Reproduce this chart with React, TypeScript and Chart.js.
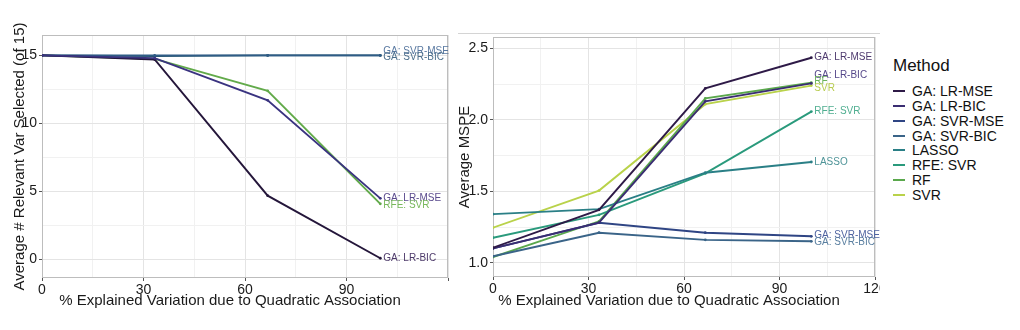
import React, { useEffect, useRef } from "react";
import { Chart, registerables } from "chart.js";

Chart.register(...registerables);

const FONT = "'Liberation Sans', Arial, sans-serif";

// ---------- data ----------
const xValues = [0, 33.3, 66.7, 100];
const methods = ["GA: LR-MSE", "GA: LR-BIC", "GA: SVR-MSE", "GA: SVR-BIC", "LASSO", "RFE: SVR", "RF", "SVR"];
const xTickLabelsLeft = [0, 30, 60, 90];
const xTickLabelsRight = [0, 30, 60, 90, 120];
const yTickLabelsLeft = [0, 5, 10, 15];
const yTickLabelsRight = [1.0, 1.5, 2.0, 2.5];
const xTitle = "% Explained Variation due to Quadratic Association";

// left panel: average # relevant var selected
const leftLrMse = [15, 14.8, 11.7, 4.5];
const leftLrBic = [15, 14.7, 4.7, 0.1];
const leftSvrMse = [15, 15, 15, 15];
const leftSvrBic = [15, 14.95, 15, 15];
const leftRfeSvr = [15, 14.75, 12.4, 4.1];

// right panel: average MSPE
const rightLrMse = [1.105, 1.37, 2.22, 2.435];
const rightLrBic = [1.1, 1.28, 2.13, 2.255];
const rightSvrMse = [1.1, 1.28, 1.21, 1.185];
const rightSvrBic = [1.045, 1.21, 1.16, 1.15];
const rightLasso = [1.34, 1.375, 1.63, 1.705];
const rightRfeSvr = [1.175, 1.335, 1.625, 2.058];
const rightRf = [1.04, 1.29, 2.15, 2.26];
const rightSvr = [1.245, 1.505, 2.11, 2.24];

// ---------- styles ----------
const methodColors = ["#2e1a47", "#3a2d72", "#2f4584", "#3a6488", "#2a7f86", "#2a9a7c", "#5aa84c", "#b9d24a"];

const toPts = (ys: number[]) => ys.map((y, i) => ({ x: xValues[i], y }));

const mkDs = (label: string, ys: number[], color: string, labelColor: string, labelDy = 0) => ({
  label,
  data: toPts(ys),
  borderColor: color,
  backgroundColor: color,
  pointBackgroundColor: color,
  pointBorderColor: color,
  borderWidth: 1.9,
  pointRadius: 1.4,
  pointHoverRadius: 1.4,
  pointBorderWidth: 0,
  tension: 0,
  labelColor,
  labelDy,
});

const panelPlugin = {
  id: "panelDeco",
  beforeDatasetsDraw(chart: any) {
    const { ctx, chartArea: a } = chart;
    ctx.save();
    ctx.strokeStyle = "#bdbdbd";
    ctx.lineWidth = 1;
    ctx.strokeRect(a.left + 0.5, a.top + 0.5, a.width - 1, a.height - 1);
    ctx.restore();
  },
  afterDatasetsDraw(chart: any) {
    const { ctx, chartArea: a } = chart;
    ctx.save();
    ctx.font = `10px ${FONT}`;
    ctx.textBaseline = "middle";
    ctx.textAlign = "left";
    chart.data.datasets.forEach((ds: any, i: number) => {
      const meta = chart.getDatasetMeta(i);
      const last = meta.data[meta.data.length - 1];
      if (!last) return;
      ctx.fillStyle = ds.labelColor;
      ctx.fillText(ds.label, last.x + 3, last.y + (ds.labelDy || 0));
    });
    // x axis title (slightly left of the panel centre, as in the source figure)
    ctx.font = `15px ${FONT}`;
    ctx.fillStyle = "#1a1a1a";
    ctx.textAlign = "center";
    ctx.fillText(xTitle, (a.left + a.right) / 2 - 15, 301);
    ctx.restore();
  },
};

const isMult = (v: number, m: number) => Math.abs(v / m - Math.round(v / m)) < 1e-6;

function makeOptions(cfg: {
  yMin: number;
  yMax: number;
  yStep: number;
  yMajor: number;
  yTicks: number[];
  xTicks: number[];
  yTitle: string;
  yTitlePad: number;
  yWidth: number;
  xHeight: number;
  padTop: number;
  padRight: number;
  yFmt: (v: number) => string;
}) {
  const gridColor = (major: number) => (ctx: any) =>
    ctx.tick && isMult(ctx.tick.value, major) ? "#e4e4e4" : "#f1f1f1";
  const tickColor = (major: number) => (ctx: any) =>
    ctx.tick && isMult(ctx.tick.value, major) ? "#555555" : "rgba(0,0,0,0)";
  return {
    responsive: false,
    animation: false as const,
    maintainAspectRatio: false,
    layout: { padding: { top: cfg.padTop, right: cfg.padRight, left: 0, bottom: 0 } },
    plugins: { legend: { display: false }, tooltip: { enabled: false }, title: { display: false } },
    scales: {
      x: {
        type: "linear" as const,
        min: 0,
        max: 120,
        afterFit: (s: any) => {
          s.height = cfg.xHeight;
        },
        ticks: {
          stepSize: 15,
          autoSkip: false,
          maxRotation: 0,
          includeBounds: false,
          padding: 1,
          color: "#1a1a1a",
          font: { family: FONT, size: 14 },
          callback: (v: any) => (cfg.xTicks.includes(Number(v)) ? String(v) : ""),
        },
        grid: { color: gridColor(30), tickColor: tickColor(30), tickLength: 3, lineWidth: 1 },
        border: { display: false },
        title: { display: false },
      },
      y: {
        type: "linear" as const,
        min: cfg.yMin,
        max: cfg.yMax,
        afterFit: (s: any) => {
          s.width = cfg.yWidth;
        },
        ticks: {
          stepSize: cfg.yStep,
          autoSkip: false,
          includeBounds: false,
          padding: 2,
          color: "#1a1a1a",
          font: { family: FONT, size: 14 },
          callback: (v: any) => {
            const n = Number(v);
            return cfg.yTicks.some((t) => Math.abs(t - n) < 1e-6) ? cfg.yFmt(n) : "";
          },
        },
        grid: { color: gridColor(cfg.yMajor), tickColor: tickColor(cfg.yMajor), tickLength: 3, lineWidth: 1 },
        border: { display: false },
        title: {
          display: true,
          text: cfg.yTitle,
          color: "#1a1a1a",
          font: { family: FONT, size: 15 },
          padding: { top: cfg.yTitlePad, bottom: 0 },
        },
      },
    },
  };
}

function LeftChart() {
  const ref = useRef<HTMLCanvasElement>(null);
  useEffect(() => {
    const chart = new Chart(ref.current!, {
      type: "line",
      data: {
        datasets: [
          mkDs(methods[0], leftLrMse, "#3a3380", "#5b4b8e", 0),
          mkDs(methods[1], leftLrBic, "#24163a", "#4d3a6a", 0),
          mkDs(methods[2], leftSvrMse, "#2f5c86", "#5878a0", -4),
          mkDs(methods[3], leftSvrBic, "#27566f", "#4c6f8c", 2),
          mkDs(methods[5], leftRfeSvr, "#62aa4a", "#78b85c", 1),
        ] as any,
      },
      options: makeOptions({
        yMin: -1.35,
        yMax: 16.5,
        yStep: 2.5,
        yMajor: 5,
        yTicks: yTickLabelsLeft,
        xTicks: xTickLabelsLeft,
        yTitle: "Average # Relevant Var Selected (of 15)",
        yTitlePad: 11,
        yWidth: 42,
        xHeight: 52,
        padTop: 35,
        padRight: 7,
        yFmt: (v) => String(v),
      }) as any,
      plugins: [panelPlugin],
    });
    return () => chart.destroy();
  }, []);
  return <canvas ref={ref} width={455} height={330} style={{ position: "absolute", left: 0, top: 0 }} />;
}

function RightChart() {
  const ref = useRef<HTMLCanvasElement>(null);
  useEffect(() => {
    const c = methodColors;
    const chart = new Chart(ref.current!, {
      type: "line",
      data: {
        datasets: [
          mkDs(methods[0], rightLrMse, c[0], "#4e3a6e", 0),
          mkDs(methods[1], rightLrBic, c[1], "#55488a", -8),
          mkDs(methods[2], rightSvrMse, c[2], "#4f63a0", -1),
          mkDs(methods[3], rightSvrBic, c[3], "#5a7fa0", 1),
          mkDs(methods[4], rightLasso, c[4], "#4f9498", 0),
          mkDs(methods[5], rightRfeSvr, c[5], "#4fae90", 0),
          mkDs(methods[6], rightRf, c[6], "#6cb45a", -1),
          mkDs(methods[7], rightSvr, c[7], "#b8cc50", 3),
        ] as any,
      },
      options: makeOptions({
        yMin: 0.9,
        yMax: 2.58,
        yStep: 0.25,
        yMajor: 0.5,
        yTicks: yTickLabelsRight,
        xTicks: xTickLabelsRight,
        yTitle: "Average MSPE",
        yTitlePad: 6,
        yWidth: 43,
        xHeight: 53,
        padTop: 37,
        padRight: 25,
        yFmt: (v) => v.toFixed(1),
      }) as any,
      plugins: [panelPlugin],
    });
    return () => chart.destroy();
  }, []);
  return <canvas ref={ref} width={450} height={330} style={{ position: "absolute", left: 450, top: 0 }} />;
}

function Legend() {
  return (
    <div
      style={{
        position: "absolute",
        left: 880,
        top: 0,
        width: 140,
        height: 330,
        background: "#ffffff",
        fontFamily: FONT,
        color: "#111",
      }}
    >
      <div style={{ position: "absolute", left: 13, top: 56, fontSize: 17, lineHeight: "20px" }}>Method</div>
      {methods.map((m, i) => (
        <div
          key={m}
          style={{
            position: "absolute",
            left: 13,
            top: 83 + i * 14.85,
            height: 16,
            display: "flex",
            alignItems: "center",
            fontSize: 14,
            lineHeight: "16px",
            whiteSpace: "nowrap",
          }}
        >
          <span style={{ display: "inline-block", width: 12, height: 2, background: methodColors[i], marginRight: 7 }} />
          <span>{m}</span>
        </div>
      ))}
    </div>
  );
}

export default function App() {
  return (
    <div
      style={{
        position: "fixed",
        left: 0,
        top: 0,
        width: 1020,
        height: 330,
        background: "#ffffff",
        overflow: "hidden",
      }}
    >
      <LeftChart />
      <RightChart />
      <div style={{ position: "absolute", left: 458, top: 33, width: 445, height: 1, background: "#d4d4d4" }} />
      <Legend />
    </div>
  );
}
